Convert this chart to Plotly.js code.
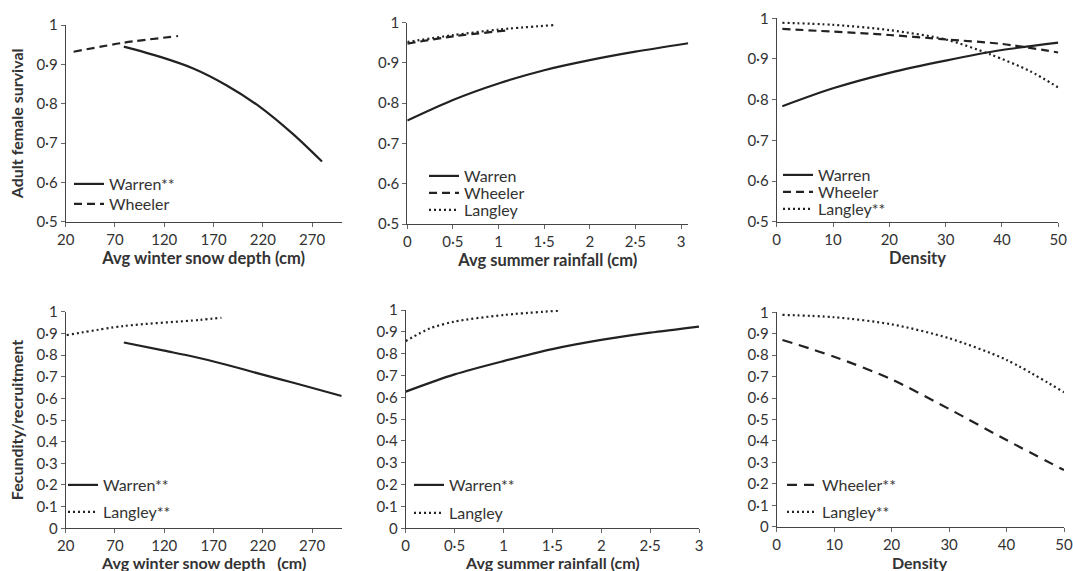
<!DOCTYPE html>
<html>
<head>
<meta charset="utf-8">
<script src="https://cdn.plot.ly/plotly-3.0.1.min.js"></script>
<style>html,body{margin:0;padding:0;background:#fff;}#chart{width:1073px;height:571px;}</style>
</head>
<body>
<div id="chart"></div>
<script>
// ---------- data ----------
// Panel A: adult female survival vs avg winter snow depth (cm)
const snowSurvWarrenX = [79, 116, 150, 183, 217, 251, 280];
const snowSurvWarrenY = [0.945, 0.919, 0.889, 0.847, 0.792, 0.722, 0.653];
const snowSurvWheelerX = [28, 79, 134];
const snowSurvWheelerY = [0.932, 0.955, 0.972];
// Panel B: adult female survival vs avg summer rainfall (cm)
const rainSurvWarrenX = [0, 0.5, 1, 1.5, 2, 2.5, 3.08];
const rainSurvWarrenY = [0.757, 0.808, 0.849, 0.882, 0.907, 0.928, 0.949];
const rainSurvWheelerX = [0, 0.5, 1.1];
const rainSurvWheelerY = [0.948, 0.966, 0.981];
const rainSurvLangleyX = [0, 0.5, 1, 1.6];
const rainSurvLangleyY = [0.952, 0.969, 0.983, 0.994];
// Panel C: adult female survival vs density
const densSurvWarrenX = [1, 10, 20, 30, 40, 50];
const densSurvWarrenY = [0.784, 0.828, 0.866, 0.896, 0.922, 0.940];
const densSurvWheelerX = [1, 20, 30, 40, 50];
const densSurvWheelerY = [0.974, 0.959, 0.948, 0.937, 0.916];
const densSurvLangleyX = [1, 10, 20, 30, 38, 45, 50];
const densSurvLangleyY = [0.989, 0.984, 0.971, 0.948, 0.911, 0.870, 0.830];
// Panel D: fecundity/recruitment vs avg winter snow depth
const snowFecWarrenX = [79, 120, 150, 183, 217, 251, 300];
const snowFecWarrenY = [0.858, 0.820, 0.792, 0.755, 0.713, 0.672, 0.611];
const snowFecLangleyX = [21, 79, 156, 178];
const snowFecLangleyY = [0.892, 0.934, 0.962, 0.972];
// Panel E: fecundity/recruitment vs avg summer rainfall
const rainFecWarrenX = [0, 0.5, 1, 1.5, 2, 2.5, 3];
const rainFecWarrenY = [0.626, 0.705, 0.766, 0.821, 0.863, 0.896, 0.924];
const rainFecLangleyX = [0, 0.25, 0.5, 1, 1.57];
const rainFecLangleyY = [0.858, 0.916, 0.947, 0.977, 0.997];
// Panel F: fecundity/recruitment vs density
const densFecWheelerX = [1, 10, 20, 30, 40, 50];
const densFecWheelerY = [0.871, 0.793, 0.687, 0.549, 0.404, 0.264];
const densFecLangleyX = [1, 10, 20, 30, 40, 50];
const densFecLangleyY = [0.988, 0.977, 0.944, 0.879, 0.778, 0.627];

// tick labels
const snowTicks = [20, 70, 120, 170, 220, 270];
const snowTickText = ['20', '70', '120', '170', '220', '270'];
const rainTicks = [0, 0.5, 1, 1.5, 2, 2.5, 3];
const rainTickText = ['0', '0·5', '1', '1·5', '2', '2·5', '3'];
const densTicks = [0, 10, 20, 30, 40, 50];
const densTickText = ['0', '10', '20', '30', '40', '50'];
const survTicks = [0.5, 0.6, 0.7, 0.8, 0.9, 1];
const survTickText = ['0·5', '0·6', '0·7', '0·8', '0·9', '1'];
const fecTicks = [0, 0.1, 0.2, 0.3, 0.4, 0.5, 0.6, 0.7, 0.8, 0.9, 1];
const fecTickText = ['0', '0·1', '0·2', '0·3', '0·4', '0·5', '0·6', '0·7', '0·8', '0·9', '1'];
const fecTickTextD = ['0', '0·1', '0·2', '0·3', '0.4', '0·5', '0·6', '0·7', '0·8', '0·9', '1'];

// ---------- styling ----------
const W = 1073, H = 571;
const FONT = 'Lato, "Open Sans", sans-serif';
const INK = '#222222';
const TXT = '#333333';
const STY = {
  solid: {color: INK, width: 2.2, dash: 'solid'},
  dash: {color: INK, width: 2.2, dash: '8px,5px'},
  dashLong: {color: INK, width: 2.2, dash: '10px,7px'},
  dot: {color: INK, width: 2.2, dash: '2px,3px'}
};

let legendCount = 0;
const layout = {
  width: W, height: H,
  margin: {l: 0, r: 0, t: 0, b: 0},
  paper_bgcolor: '#fff', plot_bgcolor: '#fff',
  font: {family: FONT, color: TXT, size: 15},
  showlegend: true,
  annotations: []
};
const traces = [];

function px2x(p) { return p / W; }
function px2y(p) { return 1 - p / H; }

function addTrace(n, x, y, name, style, legPos) {
  legendCount++;
  const lid = legendCount === 1 ? 'legend' : 'legend' + legendCount;
  traces.push({
    type: 'scatter', mode: 'lines', x: x, y: y, name: name,
    xaxis: 'x' + (n === 1 ? '' : n), yaxis: 'y' + (n === 1 ? '' : n),
    line: Object.assign({shape: 'spline', smoothing: 0.8}, style),
    legend: lid, hoverinfo: 'skip'
  });
  layout[lid] = {
    x: px2x(legPos[0] - 8), y: px2y(legPos[1]), xanchor: 'left', yanchor: 'middle',
    bgcolor: 'rgba(0,0,0,0)', borderwidth: 0,
    font: {family: FONT, size: 16, color: TXT}, itemwidth: 30
  };
}

const XTITLE_FONT = {family: FONT, size: 16.5, color: TXT, weight: 'bold'};

function addAxes(n, dom, xr, xt, xtt, xtitle, yr, yt, ytt, ytitle, bottomRow) {
  const sx = n === 1 ? '' : String(n);
  const common = {
    showgrid: false, zeroline: false, showline: true, linecolor: '#444', linewidth: 1,
    ticks: 'outside', ticklen: 4, tickcolor: '#666', tickwidth: 1,
    tickfont: {family: FONT, size: 15, color: TXT}, fixedrange: true,
    ticklabeloverflow: 'allow'
  };
  layout['xaxis' + sx] = Object.assign({}, common, {
    domain: [px2x(dom[0]), px2x(dom[1])], anchor: 'y' + sx, range: xr,
    tickmode: 'array', tickvals: xt, ticktext: xtt,
    title: bottomRow ? {text: ''} : {text: xtitle, font: XTITLE_FONT, standoff: 4}
  });
  if (bottomRow) {
    // bottom-row x titles sit close to the page edge; placed as paper annotations
    layout.annotations.push({
      xref: 'paper', yref: 'paper', x: px2x((dom[0] + dom[1]) / 2), y: px2y(562.5),
      xanchor: 'center', yanchor: 'middle', showarrow: false,
      text: '<b>' + xtitle.replace(/ {2,}/g, m => '&nbsp;'.repeat(m.length)) + '</b>',
      font: {family: FONT, size: 16, color: TXT}
    });
  }
  layout['yaxis' + sx] = Object.assign({}, common, {
    domain: [px2y(dom[3]), px2y(dom[2])], anchor: 'x' + sx, range: yr,
    tickmode: 'array', tickvals: yt, ticktext: ytt,
    title: {text: ytitle, font: {family: FONT, size: 16, color: TXT, weight: 'bold'}, standoff: 8}
  });
}

// domains in pixels: [left, right, top, bottom]
addAxes(1, [65.7, 341.7, 25, 221.7], [20, 300], snowTicks, snowTickText, 'Avg winter snow depth (cm)', [0.5, 1], survTicks, survTickText, 'Adult female survival', false);
addAxes(2, [407.3, 688.3, 22.7, 224], [0, 3.08], rainTicks, rainTickText, 'Avg summer rainfall (cm)', [0.5, 1], survTicks, survTickText, '', false);
addAxes(3, [776.7, 1058.3, 18.3, 221.7], [0, 50], densTicks, densTickText, 'Density', [0.5, 1], survTicks, survTickText, '', false);
addAxes(4, [65.7, 341.7, 311.7, 528.3], [20, 300], snowTicks, snowTickText, 'Avg winter snow depth   (cm)', [0, 1], fecTicks, fecTickTextD, 'Fecundity/recruitment', true);
addAxes(5, [405.7, 699, 310, 528.3], [0, 3], rainTicks, rainTickText, 'Avg summer rainfall (cm)', [0, 1], fecTicks, fecTickText, '', true);
addAxes(6, [776.7, 1064, 312.3, 526.7], [0, 50], densTicks, densTickText, 'Density', [0, 1], fecTicks, fecTickText, '', true);

// traces (legend sample positions: [line start px, centre y px])
addTrace(1, snowSurvWarrenX, snowSurvWarrenY, 'Warren**', STY.solid, [77, 184]);
addTrace(1, snowSurvWheelerX, snowSurvWheelerY, 'Wheeler', STY.dash, [77, 204]);
addTrace(2, rainSurvWarrenX, rainSurvWarrenY, 'Warren', STY.solid, [432, 176]);
addTrace(2, rainSurvWheelerX, rainSurvWheelerY, 'Wheeler', STY.dash, [432, 193]);
addTrace(2, rainSurvLangleyX, rainSurvLangleyY, 'Langley', STY.dot, [432, 210]);
addTrace(3, densSurvWarrenX, densSurvWarrenY, 'Warren', STY.solid, [786, 175]);
addTrace(3, densSurvWheelerX, densSurvWheelerY, 'Wheeler', STY.dash, [786, 192]);
addTrace(3, densSurvLangleyX, densSurvLangleyY, 'Langley**', STY.dot, [786, 209]);
addTrace(4, snowFecWarrenX, snowFecWarrenY, 'Warren**', STY.solid, [71, 485]);
addTrace(4, snowFecLangleyX, snowFecLangleyY, 'Langley**', STY.dot, [71, 512]);
addTrace(5, rainFecWarrenX, rainFecWarrenY, 'Warren**', STY.solid, [417, 485]);
addTrace(5, rainFecLangleyX, rainFecLangleyY, 'Langley', STY.dot, [417, 513]);
addTrace(6, densFecWheelerX, densFecWheelerY, 'Wheeler**', STY.dashLong, [790, 485]);
addTrace(6, densFecLangleyX, densFecLangleyY, 'Langley**', STY.dot, [790, 512]);

Plotly.newPlot('chart', traces, layout, {displayModeBar: false, staticPlot: true});
</script>
</body>
</html>
